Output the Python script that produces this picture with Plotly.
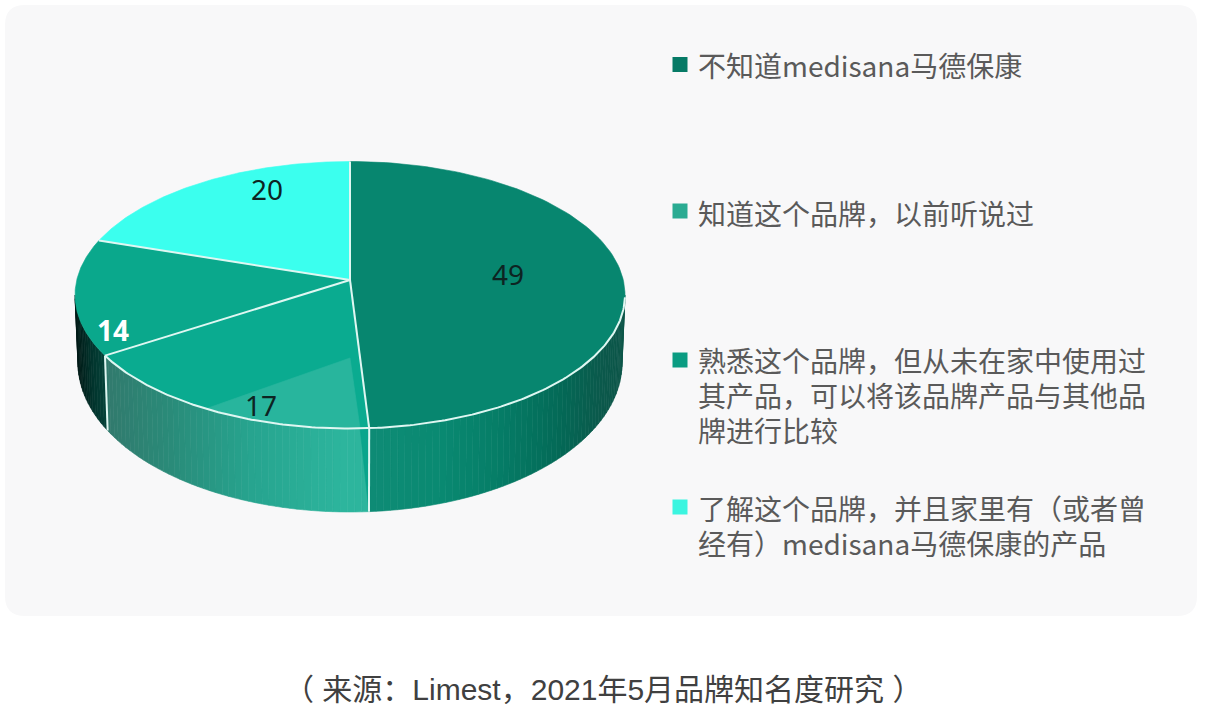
"""
Medisana brand awareness chart, drawn as a tilted 3D pie on a pixel sized axis
"""

import numpy as np
import plotly.graph_objects as go

# Data
categories = ['不知道medisana马德保康', '知道这个品牌，以前听说过',
              '熟悉这个品牌，但从未在家中使用过其产品，可以将该品牌产品与其他品牌进行比较',
              '了解这个品牌，并且家里有（或者曾经有）medisana马德保康的产品']
values = [49, 17, 14, 20]
legend_lines = [['不知道medisana马德保康'],
                ['知道这个品牌，以前听说过'],
                ['熟悉这个品牌，但从未在家中使用过', '其产品，可以将该品牌产品与其他品', '牌进行比较'],
                ['了解这个品牌，并且家里有（或者曾', '经有）medisana马德保康的产品']]
source_text = '（ 来源：Limest，2021年5月品牌知名度研究 ）'

# Slice order on the pie is 49, 17, 14, 20, clockwise from the top
top_colors = ['#07866f', '#0aab90', '#0aa88c', '#3bffee']
legend_colors = ['#067a66', '#2aab92', '#0a9c82', '#3bf5e0']
value_colors = ['#0d2422', '#0d2422', '#ffffff', '#0d2422']
value_bold = [False, False, True, False]

# Wall shading: (x pixel, colour)
wall_stops = [
    [(369, '#0f8c76'), (440, '#0a8a72'), (500, '#067d67'), (560, '#046a57'), (600, '#0b5a4c'), (625, '#0d5548')],
    [(105, '#327a6d'), (170, '#2a8c7a'), (250, '#27a48f'), (340, '#2db59d'), (370, '#2db59d')],
    [(75, '#001a16'), (90, '#02332c'), (110, '#06493f')],
]

# Pie geometry in page pixels
CX, CY, RX, RY = 350, 295, 275, 133.5
BOT_CY, BOT_RX, BOT_RY = 363, 272, 149
APEX = (350, 280)
WARP = 6.4  # perspective squeezes the left side a bit

VALUE_POS = [(508, 274), (261, 405), (113, 330), (267, 189)]
LEGEND_Y = [[65], [213], [360, 395, 430], [508, 543]]
MARKER_Y = [64.5, 211, 360, 507]
LINE = '#dff7f2'


def warp(a):
    return a - WARP * np.sin(np.radians(a))


def top_pt(a):
    r = np.radians(a)
    return CX + RX * np.sin(r), CY - RY * np.cos(r)


def bot_pt(a):
    r = np.radians(a)
    return CX + BOT_RX * np.sin(r), BOT_CY - BOT_RY * np.cos(r)


def shade(x, stops):
    xs = [s[0] for s in stops]
    rgb = [[int(s[1][i:i + 2], 16) for s in stops] for i in (1, 3, 5)]
    return 'rgb(%d,%d,%d)' % tuple(np.interp(x, xs, c) for c in rgb)


def add_poly(fig, xs, ys, color):
    fig.add_trace(go.Scatter(x=list(xs), y=list(ys), mode='lines', fill='toself', fillcolor=color,
                             line=dict(color=color, width=0.6), hoverinfo='skip', showlegend=False))


def add_line(fig, xs, ys, width=2):
    fig.add_trace(go.Scatter(x=list(xs), y=list(ys), mode='lines', line=dict(color=LINE, width=width),
                             hoverinfo='skip', showlegend=False))


fig = go.Figure()

# Slice angles from the values
shares = np.cumsum([0] + values) / sum(values) * 360
edges = [float(warp(a)) for a in shares]

# Side wall, only the front half shows
for i in range(3):
    a0 = max(edges[i], 90)
    a1 = min(edges[i + 1], 270)
    steps = np.linspace(a0, a1, max(2, int((a1 - a0) / 1.5) + 1))
    for s0, s1 in zip(steps[:-1], steps[1:]):
        x0, y0 = top_pt(s0)
        x1, y1 = top_pt(s1)
        x2, y2 = bot_pt(s1)
        x3, y3 = bot_pt(s0)
        add_poly(fig, [x0, x1, x2, x3, x0], [y0, y1, y2, y3, y0], shade((x0 + x1) / 2, wall_stops[i]))

# Darker wedge on the 17 wall next to the divider
wx = [top_pt(edges[1] + 1.9)[0], top_pt(edges[1])[0], bot_pt(edges[1])[0]]
wy = [top_pt(edges[1] + 1.9)[1], top_pt(edges[1])[1], bot_pt(edges[1])[1]]
add_poly(fig, wx + wx[:1], wy + wy[:1], '#0aa58c')

# Top faces
for i, color in enumerate(top_colors):
    arc = np.linspace(edges[i], edges[i + 1], 120)
    px, py = top_pt(arc)
    add_poly(fig, [APEX[0], *px, APEX[0]], [APEX[1], *py, APEX[1]], color)

# Light reflection on the 17 slice
arc = np.linspace(edges[1] + 1.9, 211.6, 40)
px, py = top_pt(arc)
hx = APEX[0] + 0.0 * (top_pt(180)[0] - APEX[0])
hy = APEX[1] + 0.525 * (top_pt(180)[1] - APEX[1])
add_poly(fig, [hx, *px, hx], [hy, *py, hy], '#28b59d')

# White dividers and rim
for a in edges[:4]:
    x, y = top_pt(a)
    add_line(fig, [APEX[0], x], [APEX[1], y])
for a in edges[1:3]:
    add_line(fig, [top_pt(a)[0], bot_pt(a)[0]], [top_pt(a)[1], bot_pt(a)[1]])
rim = np.linspace(91, edges[2], 200)
add_line(fig, *top_pt(rim))

# Legend squares
fig.add_trace(go.Scatter(x=[680] * 4, y=MARKER_Y, mode='markers', hoverinfo='skip', showlegend=False,
                         text=categories,
                         marker=dict(symbol='square', size=15, color=legend_colors, line=dict(width=0))))

fig.update_layout(
    width=1218, height=708,
    margin=dict(l=0, r=0, t=0, b=0),
    paper_bgcolor='white', plot_bgcolor='rgba(0,0,0,0)',
    xaxis=dict(range=[0, 1218], visible=False, fixedrange=True),
    yaxis=dict(range=[708, 0], visible=False, fixedrange=True),
    # rounded grey card behind everything
    shapes=[dict(type='path', layer='below', fillcolor='#f8f8f9', line=dict(width=0),
                 path='M 25 5 H 1177 Q 1197 5 1197 25 V 596 Q 1197 616 1177 616 H 25 Q 5 616 5 596 V 25 Q 5 5 25 5 Z')],
)

# Value labels
for v, pos, c, b in zip(values, VALUE_POS, value_colors, value_bold):
    fig.add_annotation(x=pos[0], y=pos[1], text=f'<b>{v}</b>' if b else str(v), showarrow=False,
                       font=dict(family='Noto Sans, Open Sans', size=28, color=c))

# Legend text
for lines, ys in zip(legend_lines, LEGEND_Y):
    for line, y in zip(lines, ys):
        fig.add_annotation(x=696, y=y, text=line, showarrow=False, xanchor='left',
                           font=dict(family='Noto Sans CJK SC', size=28, color='#5a5a5a'))

fig.add_annotation(x=603, y=689, text=source_text, showarrow=False,
                   font=dict(family='Liberation Sans, Noto Sans CJK SC', size=30, color='#404040'))

fig.write_html('out.html', post_script="document.body.style.margin='0';", config=dict(displayModeBar=False))
